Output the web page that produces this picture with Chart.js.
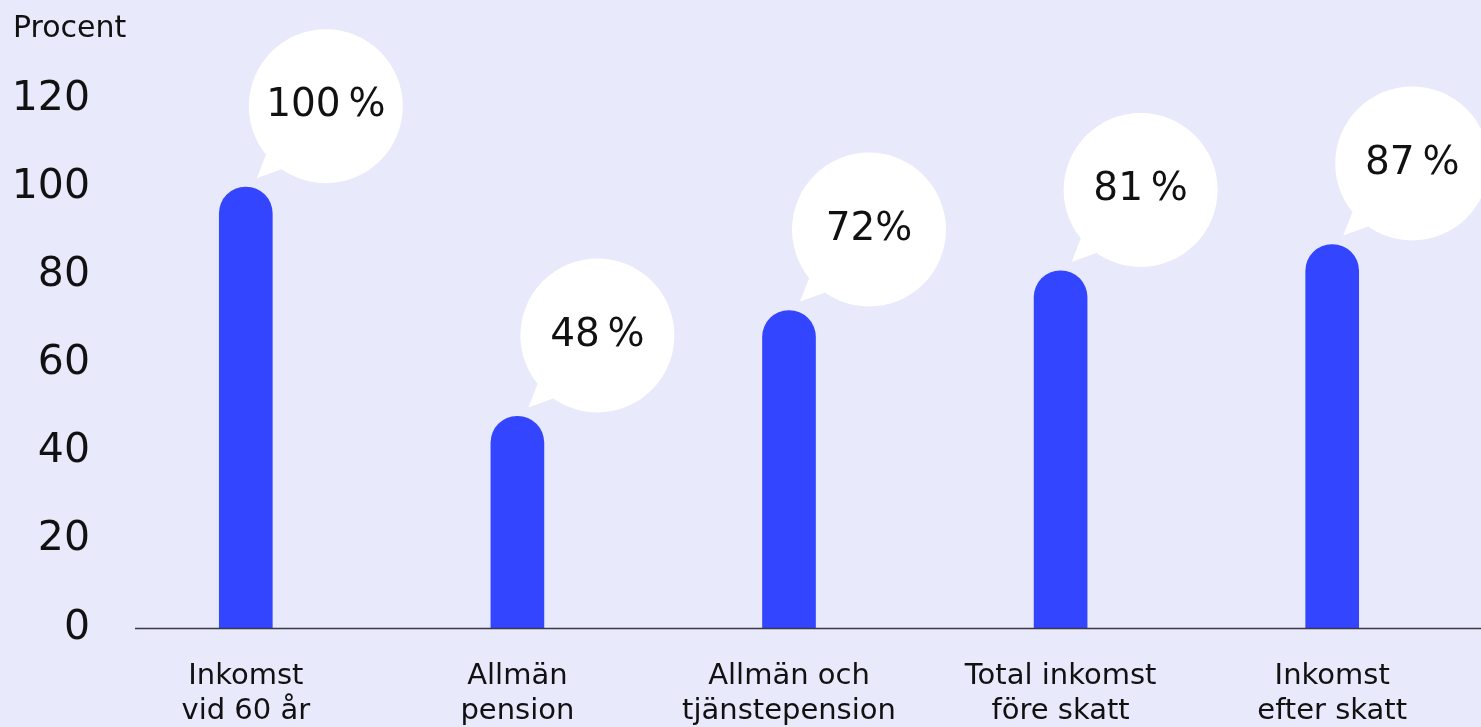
<!DOCTYPE html>
<html lang="sv">
<head>
<meta charset="utf-8">
<title>Inkomst före och efter pension</title>
<script src="https://cdn.jsdelivr.net/npm/chart.js@4/dist/chart.umd.min.js"></script>
<style>
  html, body { margin: 0; padding: 0; background: #e8e9fb; }
  #wrap { position: relative; width: 1481px; height: 727px; }
</style>
</head>
<body>
<div id="wrap"><canvas id="pensionChart"></canvas></div>
<script>
// kategorier (två rader per etikett), värden i procent och bubbeltexter
const categories = [
  ["Inkomst", "vid 60 år"],
  ["Allmän", "pension"],
  ["Allmän och", "tjänstepension"],
  ["Total inkomst", "före skatt"],
  ["Inkomst", "efter skatt"]
];
const values = [100, 48, 72, 81, 87];
const bubbleLabels = ["100\u202F%", "48\u202F%", "72%", "81\u202F%", "87\u202F%"];
const yMin = 0;
const yMax = 120;
const yStep = 20;

const FONT = "'DejaVu Sans', Inter, sans-serif";
const BLUE = "#3345ff";
const INK = "#111111";

/* pratbubblor ovanför staplarna */
const bubbles = {
  id: "bubbles",
  afterDatasetsDraw(chart) {
    const ctx = chart.ctx;
    const meta = chart.getDatasetMeta(0);
    const r = 77;
    ctx.save();
    meta.data.forEach((bar, i) => {
      const cx = bar.x + 80;
      const cy = bar.y - 81;
      const a1 = 141 * Math.PI / 180;
      const a2 = 125 * Math.PI / 180;
      ctx.fillStyle = "#ffffff";
      ctx.beginPath();
      ctx.arc(cx, cy, r, 0, Math.PI * 2);
      ctx.fill();
      ctx.beginPath();
      ctx.moveTo(cx + r * Math.cos(a1), cy + r * Math.sin(a1));
      ctx.lineTo(bar.x + 11, bar.y - 9);
      ctx.lineTo(cx + r * Math.cos(a2), cy + r * Math.sin(a2));
      ctx.closePath();
      ctx.fill();

      ctx.fillStyle = INK;
      ctx.font = "39px " + FONT;
      ctx.textAlign = "center";
      ctx.textBaseline = "middle";
      ctx.fillText(bubbleLabels[i], cx, cy);
    });
    ctx.restore();
  }
};

/* nollinje och axeltitel */
const frame = {
  id: "frame",
  afterDatasetsDraw(chart) {
    const ctx = chart.ctx;
    const y0 = Math.round(chart.scales.y.getPixelForValue(0)) + 0.5;
    ctx.save();
    ctx.strokeStyle = "#3a3a44";
    ctx.lineWidth = 1.5;
    ctx.beginPath();
    ctx.moveTo(135, y0);
    ctx.lineTo(chart.width, y0);
    ctx.stroke();

    ctx.fillStyle = INK;
    ctx.font = "30px " + FONT;
    ctx.textAlign = "left";
    ctx.textBaseline = "alphabetic";
    ctx.fillText("Procent", 13, 37);
    ctx.restore();
  }
};

chart = new Chart(document.getElementById("pensionChart"), {
  type: "bar",
  data: {
    labels: categories,
    datasets: [{
      data: values,
      backgroundColor: BLUE,
      barThickness: 53,
      borderRadius: 27,
      borderSkipped: "bottom"
    }]
  },
  options: {
    responsive: true,
    maintainAspectRatio: false,
    animation: false,
    layout: { padding: { top: 99, right: 13, left: 0, bottom: 0 } },
    plugins: {
      legend: { display: false },
      tooltip: { enabled: false }
    },
    scales: {
      x: {
        grid: { display: false, drawTicks: false },
        border: { display: false },
        ticks: {
          color: INK,
          font: { family: FONT, size: 29, lineHeight: 1.24 },
          padding: 30,
          maxRotation: 0,
          autoSkip: false
        },
        afterFit(s) { s.height = 99; }
      },
      y: {
        min: yMin,
        max: yMax,
        grid: { display: false, drawTicks: false },
        border: { display: false },
        ticks: {
          stepSize: yStep,
          color: INK,
          font: { family: FONT, size: 41 },
          padding: 20
        },
        afterFit(s) { s.width = 110; }
      }
    }
  },
  plugins: [frame, bubbles]
});
</script>
</body>
</html>
